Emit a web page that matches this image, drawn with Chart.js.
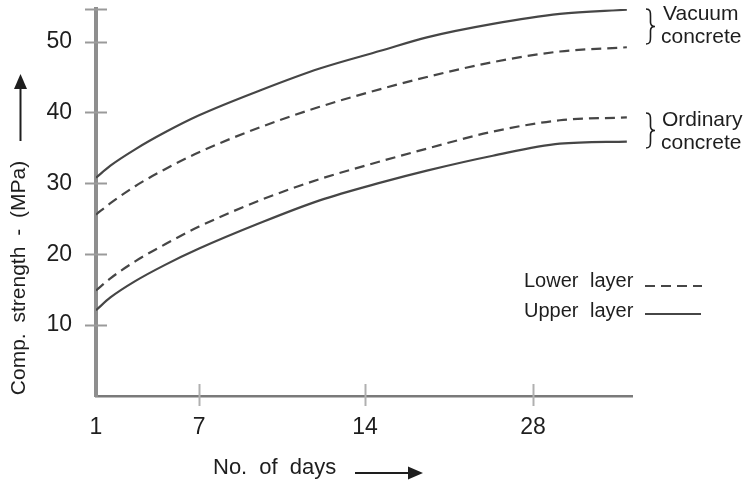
<!DOCTYPE html>
<html>
<head>
    <title>Comp. strength</title>
    <script src="https://cdn.jsdelivr.net/npm/chart.js"></script>
    <style>
        body { margin: 0; background: #fff; }
        #wrap { width: 749px; height: 487px; position: relative; }
    </style>
</head>
<body>
    <div id="wrap"><canvas id="myChart"></canvas></div>

    <script>
        // positions on the (non uniform) day axis and their labels
        const dayTickPos = [0, 1, 2.61, 4.24];
        const dayTickLabels = ['1', '7', '14', '28'];
        const strengthTicks = [10, 20, 30, 40, 50];

        // sample points along the day axis
        const xPos = [0, 0.14, 0.38, 0.67, 1.0, 1.59, 2.17, 2.76, 3.21, 3.85, 4.5, 5.15];

        // Comp. strength (MPa)
        const vacuumUpper   = [30.8, 32.5, 34.8, 37.2, 39.6, 43.1, 46.2, 48.7, 50.6, 52.5, 53.9, 54.5];
        const vacuumLower   = [25.6, 27.2, 29.6, 32.0, 34.4, 37.9, 40.8, 43.3, 45.0, 47.1, 48.6, 49.2];
        const ordinaryLower = [14.9, 16.6, 19.0, 21.4, 23.9, 27.6, 30.6, 33.1, 34.9, 37.3, 38.9, 39.3];
        const ordinaryUpper = [12.1, 13.9, 16.2, 18.5, 20.8, 24.4, 27.6, 30.1, 31.8, 33.9, 35.6, 35.9];

        const FONT = '"Liberation Sans", Arial, Helvetica, sans-serif';
        const LINE = '#464646';
        const DASH = [10, 6];

        function pts(arr) {
            return arr.map((v, i) => ({ x: xPos[i], y: v }));
        }

        function brace(ctx, x, yTop, yBot, w) {
            const h = yBot - yTop, mid = (yTop + yBot) / 2, xm = x + w * 0.5;
            ctx.beginPath();
            ctx.moveTo(x, yTop);
            ctx.bezierCurveTo(x + w * 0.5, yTop, xm, yTop + 3, xm, yTop + h * 0.2);
            ctx.lineTo(xm, mid - h * 0.12);
            ctx.quadraticCurveTo(xm, mid, x + w, mid);
            ctx.quadraticCurveTo(xm, mid, xm, mid + h * 0.12);
            ctx.lineTo(xm, yBot - h * 0.2);
            ctx.bezierCurveTo(xm, yBot - 3, x + w * 0.5, yBot, x, yBot);
            ctx.stroke();
        }

        function arrow(ctx, x1, y1, x2, y2) {
            const a = Math.atan2(y2 - y1, x2 - x1), L = 15, W = 6.5;
            ctx.beginPath();
            ctx.moveTo(x1, y1);
            ctx.lineTo(x2 - L * Math.cos(a), y2 - L * Math.sin(a));
            ctx.stroke();
            ctx.beginPath();
            ctx.moveTo(x2, y2);
            ctx.lineTo(x2 - L * Math.cos(a) - W * Math.sin(a), y2 - L * Math.sin(a) + W * Math.cos(a));
            ctx.lineTo(x2 - L * Math.cos(a) + W * Math.sin(a), y2 - L * Math.sin(a) - W * Math.cos(a));
            ctx.closePath();
            ctx.fill();
        }

        const decorations = {
            id: 'decorations',
            beforeDatasetsDraw(chart) {
                const ctx = chart.ctx, xs = chart.scales.x, ys = chart.scales.y;
                const left = chart.chartArea.left, bottom = chart.chartArea.bottom;
                ctx.save();
                // tick marks crossing the axes
                ctx.strokeStyle = '#9a9a9a';
                ctx.lineWidth = 2;
                strengthTicks.concat([ys.max]).forEach(v => {
                    const y = Math.round(ys.getPixelForValue(v)) + 0.5;
                    ctx.beginPath();
                    ctx.moveTo(left - 11, y);
                    ctx.lineTo(left + 11, y);
                    ctx.stroke();
                });
                ctx.strokeStyle = '#b0b0b0';
                dayTickPos.slice(1).forEach(v => {
                    const x = Math.round(xs.getPixelForValue(v)) + 0.5;
                    ctx.beginPath();
                    ctx.moveTo(x, bottom - 12);
                    ctx.lineTo(x, bottom + 10);
                    ctx.stroke();
                });
                ctx.restore();
            },
            afterDraw(chart) {
                const ctx = chart.ctx;
                ctx.save();
                ctx.fillStyle = '#1e1e1e';
                ctx.strokeStyle = '#1e1e1e';

                // y axis title
                ctx.save();
                ctx.translate(19, 278);
                ctx.rotate(-Math.PI / 2);
                ctx.font = '21px ' + FONT;
                ctx.wordSpacing = '5px';
                ctx.textAlign = 'center';
                ctx.textBaseline = 'middle';
                ctx.fillText('Comp. strength - (MPa)', 0, 0);
                ctx.restore();
                ctx.lineWidth = 2;
                arrow(ctx, 20.5, 141, 20.5, 74);

                // x axis title
                ctx.font = '22px ' + FONT;
                ctx.wordSpacing = '6px';
                ctx.textAlign = 'left';
                ctx.textBaseline = 'middle';
                ctx.fillText('No. of days', 213, 468);
                arrow(ctx, 355, 473, 423, 473);

                // braces and group labels
                ctx.lineWidth = 1.6;
                brace(ctx, 646, 9, 44, 9);
                brace(ctx, 646, 113, 148, 9);
                ctx.font = '21px ' + FONT;
                ctx.wordSpacing = '0px';
                ctx.fillText('Vacuum', 663, 14);
                ctx.fillText('concrete', 661, 37);
                ctx.fillText('Ordinary', 662, 120);
                ctx.fillText('concrete', 661, 143);

                // layer key
                ctx.font = '20px ' + FONT;
                ctx.wordSpacing = '6px';
                ctx.fillText('Lower layer', 524, 281);
                ctx.fillText('Upper layer', 524, 311);
                ctx.strokeStyle = LINE;
                ctx.lineWidth = 2;
                ctx.setLineDash(DASH);
                ctx.beginPath();
                ctx.moveTo(645, 286);
                ctx.lineTo(702, 286);
                ctx.stroke();
                ctx.setLineDash([]);
                ctx.beginPath();
                ctx.moveTo(645, 314);
                ctx.lineTo(701, 314);
                ctx.stroke();
                ctx.restore();
            }
        };

        const ds = (label, arr, dashed) => ({
            label: label,
            data: pts(arr),
            borderColor: LINE,
            borderWidth: 2.2,
            borderDash: dashed ? DASH : [],
            pointRadius: 0,
            fill: false,
            cubicInterpolationMode: 'monotone'
        });

        const ctx = document.getElementById('myChart').getContext('2d');
        new Chart(ctx, {
            type: 'line',
            data: {
                datasets: [
                    ds('Vacuum concrete - Upper layer', vacuumUpper, false),
                    ds('Vacuum concrete - Lower layer', vacuumLower, true),
                    ds('Ordinary concrete - Lower layer', ordinaryLower, true),
                    ds('Ordinary concrete - Upper layer', ordinaryUpper, false)
                ]
            },
            options: {
                responsive: true,
                maintainAspectRatio: false,
                animation: false,
                layout: { padding: { top: 9, right: 117, left: 0, bottom: 0 } },
                plugins: { legend: { display: false }, tooltip: { enabled: false } },
                scales: {
                    x: {
                        type: 'linear',
                        min: 0,
                        max: 5.2,
                        afterBuildTicks: s => { s.ticks = dayTickPos.map(v => ({ value: v })); },
                        afterFit: s => { s.height = 91; s.paddingLeft = 0; s.paddingRight = 0; },
                        ticks: {
                            callback: (v, i) => dayTickLabels[i],
                            font: { family: FONT, size: 23 },
                            color: '#1e1e1e',
                            padding: 18,
                            maxRotation: 0,
                            autoSkip: false
                        },
                        grid: { display: false, drawTicks: false },
                        border: { color: '#7a7a7a', width: 2.5 }
                    },
                    y: {
                        min: 0,
                        max: 54.6,
                        afterBuildTicks: s => { s.ticks = strengthTicks.map(v => ({ value: v })); },
                        afterFit: s => { s.width = 96; s.paddingTop = 0; s.paddingBottom = 0; },
                        ticks: {
                            font: { family: FONT, size: 23 },
                            color: '#1e1e1e',
                            padding: 24
                        },
                        grid: { display: false, drawTicks: false },
                        border: { color: '#8e8e8e', width: 4 }
                    }
                }
            },
            plugins: [decorations]
        });
    </script>
</body>
</html>
